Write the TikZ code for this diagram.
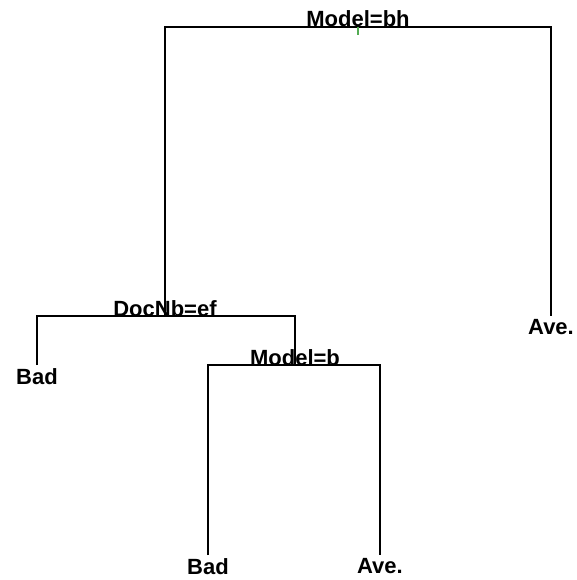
\documentclass[tikz,border=0pt]{standalone}
\usepackage{fontspec}
\setmainfont{Liberation Sans}
\begin{document}
\begin{tikzpicture}[x=1pt, y=-1pt,
    split/.style={font=\fontsize{22}{24}\selectfont\bfseries, inner sep=0pt, anchor=base},
    leaf/.style={font=\fontsize{22}{24}\selectfont\bfseries, inner sep=3pt, anchor=north},
    edge/.style={line width=1.2pt, black}]
    \useasboundingbox (0,0) rectangle (576,580);
    % splits
    \node[split] (m1) at (358,27) {Model=bh};
    \node[split] (d1) at (165,316) {DocNb=ef};
    \node[split] (m2) at (295,365) {Model=b};
    % leaves
    \node[leaf] (b1) at (37,365) {Bad};
    \node[leaf] (a1) at (551,316) {Ave.};
    \node[leaf] (b2) at (208,555) {Bad};
    \node[leaf] (a2) at (380,555) {Ave.};
    % branches
    \draw[edge] (d1.base) |- (m1.base) -| (a1.north);
    \draw[edge] (b1.north) |- (d1.base) -| (m2.base);
    \draw[edge] (b2.north) |- (m2.base) -| (a2.north);
    \draw[line width=1.2pt, green!35!gray] (m1.base) -- ++(0,8);
\end{tikzpicture}
\end{document}
